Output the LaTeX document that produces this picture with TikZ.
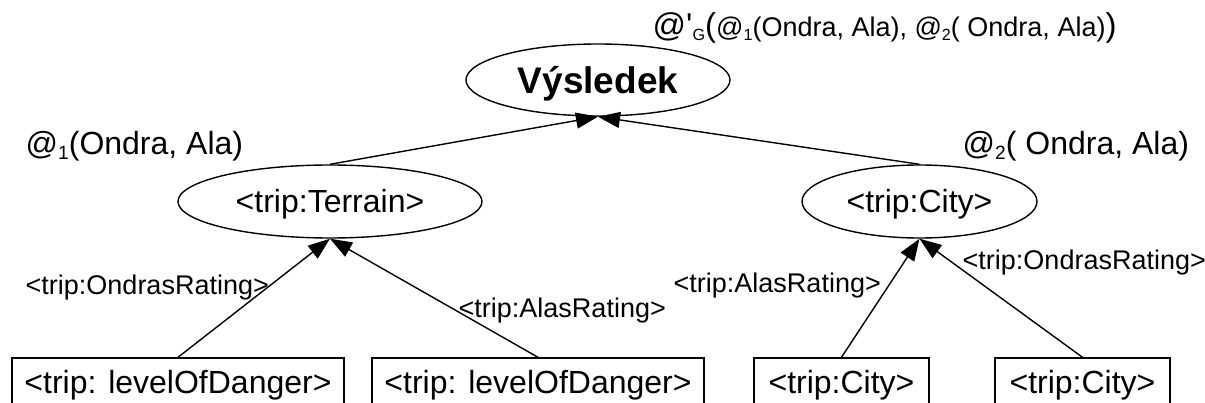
\documentclass[tikz,border=0pt]{standalone}
\usepackage{fontspec}
\setmainfont{Liberation Sans}
\usetikzlibrary{shapes.geometric,arrows.meta}

% small lowered index, about 60% of the surrounding size
\makeatletter
\newcommand\lowidx[1]{\raisebox{-0.13em}{\fontsize{0.6\dimexpr\f@size pt\relax}{1em}\selectfont #1}}
\makeatother

\begin{document}
\begin{tikzpicture}[x=1pt,y=-1pt,line width=1.4pt,
  big/.style={font=\fontsize{32}{38}\selectfont,inner sep=0pt,text height=22.9pt,text depth=0pt},
  small/.style={font=\fontsize{27}{32}\selectfont,inner sep=0pt,text height=19.3pt,text depth=0pt},
  ellnode/.style={big,draw,ellipse,minimum height=73pt},
  leaf/.style={big,draw,rectangle,minimum height=48pt},
  arr/.style={-{Triangle[length=22pt,width=16pt]}}]
  \useasboundingbox (0,0) rectangle (1205,403);
  \clip (0,0) rectangle (1205,403);

  % tree nodes
  \node[ellnode,minimum width=264pt,minimum height=72pt,
        font=\fontsize{37}{44}\selectfont\bfseries,text height=26.5pt] (res) at (598,80) {Výsledek};
  \node[ellnode,minimum width=304pt] (terr) at (330,201.5) {<trip:Terrain>};
  \node[ellnode,minimum width=235pt] (city) at (919.5,201.5) {<trip:City>};

  \node[leaf,minimum width=332pt] (b1) at (178,382) {<trip: levelOfDanger>};
  \node[leaf,minimum width=332pt] (b2) at (538,382) {<trip: levelOfDanger>};
  \node[leaf,minimum width=175pt] (b3) at (841.5,382) {<trip:City>};
  \node[leaf,minimum width=175pt] (b4) at (1082.5,382) {<trip:City>};

  % connectors
  \draw[arr] (terr.north) -- (res.south);
  \draw[arr] (city.north) -- (res.south);
  \draw[arr] (b1.north) -- (terr.south);
  \draw[arr] (b2.north) -- (terr.south);
  \draw[arr] (b3.north) -- (city.south);
  \draw[arr] (b4.north) -- (city.south);

  % edge labels
  \node[small,anchor=west] (l1) at (25,285) {<trip:OndrasRating>};
  \node[small,anchor=west] (l2) at (458,308) {<trip:AlasRating>};
  \node[small,anchor=west] (l3) at (673,283) {<trip:AlasRating>};
  \node[small,anchor=west] (l4) at (962,260) {<trip:OndrasRating>};

  % aggregation labels
  \node[big,anchor=base west,text height=] (a1) at (25,155) {@\lowidx{1}(Ondra, Ala)};
  \node[big,anchor=base west,text height=] (a2) at (962,155) {@\lowidx{2}( Ondra, Ala)};
  \node[small,anchor=base west,text height=] (ag) at (652,37)
    {{\fontsize{33}{38}\selectfont @\textquotesingle}\lowidx{G}{\fontsize{33}{38}\selectfont (}@\lowidx{1}(Ondra, Ala), @\lowidx{2}( Ondra, Ala){\fontsize{33}{38}\selectfont )}};
\end{tikzpicture}
\end{document}
